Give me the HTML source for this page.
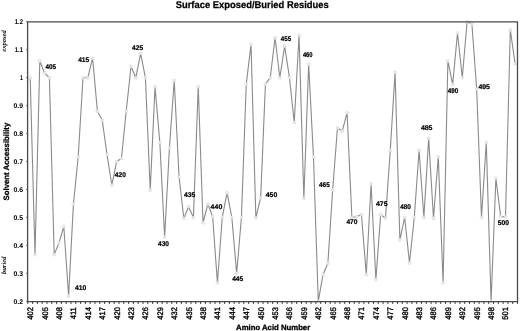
<!DOCTYPE html>
<html><head><meta charset="utf-8"><style>
html,body{margin:0;padding:0;background:#fff;}
body{width:520px;height:331px;overflow:hidden;font-family:"Liberation Sans", sans-serif;}
svg{display:block;will-change:transform;text-rendering:geometricPrecision;}
</style></head><body>
<svg width="520" height="331" viewBox="0 0 520 331">
<rect width="520" height="331" fill="#fff"/>
<text x="175.7" y="7.7" textLength="153" lengthAdjust="spacingAndGlyphs" font-family="Liberation Sans" font-weight="bold" font-size="9.8" fill="#000" stroke="#000" stroke-width="0.25">Surface Exposed/Buried Residues</text>
<text x="23" y="24.20" textLength="8.2" lengthAdjust="spacingAndGlyphs" text-anchor="end" font-family="Liberation Sans" font-weight="bold" font-size="6.8" fill="#000">1.2</text>
<line x1="26.0" y1="21.80" x2="27.8" y2="21.80" stroke="#555" stroke-width="0.8"/>
<text x="23" y="52.15" textLength="8.2" lengthAdjust="spacingAndGlyphs" text-anchor="end" font-family="Liberation Sans" font-weight="bold" font-size="6.8" fill="#000">1.1</text>
<line x1="26.0" y1="49.75" x2="27.8" y2="49.75" stroke="#555" stroke-width="0.8"/>
<text x="23" y="80.10" textLength="2.9" lengthAdjust="spacingAndGlyphs" text-anchor="end" font-family="Liberation Sans" font-weight="bold" font-size="6.8" fill="#000">1</text>
<line x1="26.0" y1="77.70" x2="27.8" y2="77.70" stroke="#555" stroke-width="0.8"/>
<text x="23" y="108.05" text-anchor="end" font-family="Liberation Sans" font-weight="bold" font-size="6.8" fill="#000">0.9</text>
<line x1="26.0" y1="105.65" x2="27.8" y2="105.65" stroke="#555" stroke-width="0.8"/>
<text x="23" y="136.00" text-anchor="end" font-family="Liberation Sans" font-weight="bold" font-size="6.8" fill="#000">0.8</text>
<line x1="26.0" y1="133.60" x2="27.8" y2="133.60" stroke="#555" stroke-width="0.8"/>
<text x="23" y="163.95" text-anchor="end" font-family="Liberation Sans" font-weight="bold" font-size="6.8" fill="#000">0.7</text>
<line x1="26.0" y1="161.55" x2="27.8" y2="161.55" stroke="#555" stroke-width="0.8"/>
<text x="23" y="191.90" text-anchor="end" font-family="Liberation Sans" font-weight="bold" font-size="6.8" fill="#000">0.6</text>
<line x1="26.0" y1="189.50" x2="27.8" y2="189.50" stroke="#555" stroke-width="0.8"/>
<text x="23" y="219.85" text-anchor="end" font-family="Liberation Sans" font-weight="bold" font-size="6.8" fill="#000">0.5</text>
<line x1="26.0" y1="217.45" x2="27.8" y2="217.45" stroke="#555" stroke-width="0.8"/>
<text x="23" y="247.80" text-anchor="end" font-family="Liberation Sans" font-weight="bold" font-size="6.8" fill="#000">0.4</text>
<line x1="26.0" y1="245.40" x2="27.8" y2="245.40" stroke="#555" stroke-width="0.8"/>
<text x="23" y="275.75" text-anchor="end" font-family="Liberation Sans" font-weight="bold" font-size="6.8" fill="#000">0.3</text>
<line x1="26.0" y1="273.35" x2="27.8" y2="273.35" stroke="#555" stroke-width="0.8"/>
<text x="23" y="303.70" text-anchor="end" font-family="Liberation Sans" font-weight="bold" font-size="6.8" fill="#000">0.2</text>
<line x1="26.0" y1="301.30" x2="27.8" y2="301.30" stroke="#555" stroke-width="0.8"/>
<line x1="27.80" y1="301.3" x2="27.80" y2="303.90000000000003" stroke="#333" stroke-width="1"/>
<line x1="32.60" y1="301.3" x2="32.60" y2="303.90000000000003" stroke="#333" stroke-width="1"/>
<line x1="37.40" y1="301.3" x2="37.40" y2="303.90000000000003" stroke="#333" stroke-width="1"/>
<line x1="42.20" y1="301.3" x2="42.20" y2="303.90000000000003" stroke="#333" stroke-width="1"/>
<line x1="47.00" y1="301.3" x2="47.00" y2="303.90000000000003" stroke="#333" stroke-width="1"/>
<line x1="51.80" y1="301.3" x2="51.80" y2="303.90000000000003" stroke="#333" stroke-width="1"/>
<line x1="56.61" y1="301.3" x2="56.61" y2="303.90000000000003" stroke="#333" stroke-width="1"/>
<line x1="61.41" y1="301.3" x2="61.41" y2="303.90000000000003" stroke="#333" stroke-width="1"/>
<line x1="66.21" y1="301.3" x2="66.21" y2="303.90000000000003" stroke="#333" stroke-width="1"/>
<line x1="71.01" y1="301.3" x2="71.01" y2="303.90000000000003" stroke="#333" stroke-width="1"/>
<line x1="75.81" y1="301.3" x2="75.81" y2="303.90000000000003" stroke="#333" stroke-width="1"/>
<line x1="80.61" y1="301.3" x2="80.61" y2="303.90000000000003" stroke="#333" stroke-width="1"/>
<line x1="85.41" y1="301.3" x2="85.41" y2="303.90000000000003" stroke="#333" stroke-width="1"/>
<line x1="90.21" y1="301.3" x2="90.21" y2="303.90000000000003" stroke="#333" stroke-width="1"/>
<line x1="95.01" y1="301.3" x2="95.01" y2="303.90000000000003" stroke="#333" stroke-width="1"/>
<line x1="99.81" y1="301.3" x2="99.81" y2="303.90000000000003" stroke="#333" stroke-width="1"/>
<line x1="104.62" y1="301.3" x2="104.62" y2="303.90000000000003" stroke="#333" stroke-width="1"/>
<line x1="109.42" y1="301.3" x2="109.42" y2="303.90000000000003" stroke="#333" stroke-width="1"/>
<line x1="114.22" y1="301.3" x2="114.22" y2="303.90000000000003" stroke="#333" stroke-width="1"/>
<line x1="119.02" y1="301.3" x2="119.02" y2="303.90000000000003" stroke="#333" stroke-width="1"/>
<line x1="123.82" y1="301.3" x2="123.82" y2="303.90000000000003" stroke="#333" stroke-width="1"/>
<line x1="128.62" y1="301.3" x2="128.62" y2="303.90000000000003" stroke="#333" stroke-width="1"/>
<line x1="133.42" y1="301.3" x2="133.42" y2="303.90000000000003" stroke="#333" stroke-width="1"/>
<line x1="138.22" y1="301.3" x2="138.22" y2="303.90000000000003" stroke="#333" stroke-width="1"/>
<line x1="143.02" y1="301.3" x2="143.02" y2="303.90000000000003" stroke="#333" stroke-width="1"/>
<line x1="147.82" y1="301.3" x2="147.82" y2="303.90000000000003" stroke="#333" stroke-width="1"/>
<line x1="152.63" y1="301.3" x2="152.63" y2="303.90000000000003" stroke="#333" stroke-width="1"/>
<line x1="157.43" y1="301.3" x2="157.43" y2="303.90000000000003" stroke="#333" stroke-width="1"/>
<line x1="162.23" y1="301.3" x2="162.23" y2="303.90000000000003" stroke="#333" stroke-width="1"/>
<line x1="167.03" y1="301.3" x2="167.03" y2="303.90000000000003" stroke="#333" stroke-width="1"/>
<line x1="171.83" y1="301.3" x2="171.83" y2="303.90000000000003" stroke="#333" stroke-width="1"/>
<line x1="176.63" y1="301.3" x2="176.63" y2="303.90000000000003" stroke="#333" stroke-width="1"/>
<line x1="181.43" y1="301.3" x2="181.43" y2="303.90000000000003" stroke="#333" stroke-width="1"/>
<line x1="186.23" y1="301.3" x2="186.23" y2="303.90000000000003" stroke="#333" stroke-width="1"/>
<line x1="191.03" y1="301.3" x2="191.03" y2="303.90000000000003" stroke="#333" stroke-width="1"/>
<line x1="195.83" y1="301.3" x2="195.83" y2="303.90000000000003" stroke="#333" stroke-width="1"/>
<line x1="200.64" y1="301.3" x2="200.64" y2="303.90000000000003" stroke="#333" stroke-width="1"/>
<line x1="205.44" y1="301.3" x2="205.44" y2="303.90000000000003" stroke="#333" stroke-width="1"/>
<line x1="210.24" y1="301.3" x2="210.24" y2="303.90000000000003" stroke="#333" stroke-width="1"/>
<line x1="215.04" y1="301.3" x2="215.04" y2="303.90000000000003" stroke="#333" stroke-width="1"/>
<line x1="219.84" y1="301.3" x2="219.84" y2="303.90000000000003" stroke="#333" stroke-width="1"/>
<line x1="224.64" y1="301.3" x2="224.64" y2="303.90000000000003" stroke="#333" stroke-width="1"/>
<line x1="229.44" y1="301.3" x2="229.44" y2="303.90000000000003" stroke="#333" stroke-width="1"/>
<line x1="234.24" y1="301.3" x2="234.24" y2="303.90000000000003" stroke="#333" stroke-width="1"/>
<line x1="239.04" y1="301.3" x2="239.04" y2="303.90000000000003" stroke="#333" stroke-width="1"/>
<line x1="243.84" y1="301.3" x2="243.84" y2="303.90000000000003" stroke="#333" stroke-width="1"/>
<line x1="248.65" y1="301.3" x2="248.65" y2="303.90000000000003" stroke="#333" stroke-width="1"/>
<line x1="253.45" y1="301.3" x2="253.45" y2="303.90000000000003" stroke="#333" stroke-width="1"/>
<line x1="258.25" y1="301.3" x2="258.25" y2="303.90000000000003" stroke="#333" stroke-width="1"/>
<line x1="263.05" y1="301.3" x2="263.05" y2="303.90000000000003" stroke="#333" stroke-width="1"/>
<line x1="267.85" y1="301.3" x2="267.85" y2="303.90000000000003" stroke="#333" stroke-width="1"/>
<line x1="272.65" y1="301.3" x2="272.65" y2="303.90000000000003" stroke="#333" stroke-width="1"/>
<line x1="277.45" y1="301.3" x2="277.45" y2="303.90000000000003" stroke="#333" stroke-width="1"/>
<line x1="282.25" y1="301.3" x2="282.25" y2="303.90000000000003" stroke="#333" stroke-width="1"/>
<line x1="287.05" y1="301.3" x2="287.05" y2="303.90000000000003" stroke="#333" stroke-width="1"/>
<line x1="291.85" y1="301.3" x2="291.85" y2="303.90000000000003" stroke="#333" stroke-width="1"/>
<line x1="296.65" y1="301.3" x2="296.65" y2="303.90000000000003" stroke="#333" stroke-width="1"/>
<line x1="301.46" y1="301.3" x2="301.46" y2="303.90000000000003" stroke="#333" stroke-width="1"/>
<line x1="306.26" y1="301.3" x2="306.26" y2="303.90000000000003" stroke="#333" stroke-width="1"/>
<line x1="311.06" y1="301.3" x2="311.06" y2="303.90000000000003" stroke="#333" stroke-width="1"/>
<line x1="315.86" y1="301.3" x2="315.86" y2="303.90000000000003" stroke="#333" stroke-width="1"/>
<line x1="320.66" y1="301.3" x2="320.66" y2="303.90000000000003" stroke="#333" stroke-width="1"/>
<line x1="325.46" y1="301.3" x2="325.46" y2="303.90000000000003" stroke="#333" stroke-width="1"/>
<line x1="330.26" y1="301.3" x2="330.26" y2="303.90000000000003" stroke="#333" stroke-width="1"/>
<line x1="335.06" y1="301.3" x2="335.06" y2="303.90000000000003" stroke="#333" stroke-width="1"/>
<line x1="339.86" y1="301.3" x2="339.86" y2="303.90000000000003" stroke="#333" stroke-width="1"/>
<line x1="344.66" y1="301.3" x2="344.66" y2="303.90000000000003" stroke="#333" stroke-width="1"/>
<line x1="349.47" y1="301.3" x2="349.47" y2="303.90000000000003" stroke="#333" stroke-width="1"/>
<line x1="354.27" y1="301.3" x2="354.27" y2="303.90000000000003" stroke="#333" stroke-width="1"/>
<line x1="359.07" y1="301.3" x2="359.07" y2="303.90000000000003" stroke="#333" stroke-width="1"/>
<line x1="363.87" y1="301.3" x2="363.87" y2="303.90000000000003" stroke="#333" stroke-width="1"/>
<line x1="368.67" y1="301.3" x2="368.67" y2="303.90000000000003" stroke="#333" stroke-width="1"/>
<line x1="373.47" y1="301.3" x2="373.47" y2="303.90000000000003" stroke="#333" stroke-width="1"/>
<line x1="378.27" y1="301.3" x2="378.27" y2="303.90000000000003" stroke="#333" stroke-width="1"/>
<line x1="383.07" y1="301.3" x2="383.07" y2="303.90000000000003" stroke="#333" stroke-width="1"/>
<line x1="387.87" y1="301.3" x2="387.87" y2="303.90000000000003" stroke="#333" stroke-width="1"/>
<line x1="392.67" y1="301.3" x2="392.67" y2="303.90000000000003" stroke="#333" stroke-width="1"/>
<line x1="397.48" y1="301.3" x2="397.48" y2="303.90000000000003" stroke="#333" stroke-width="1"/>
<line x1="402.28" y1="301.3" x2="402.28" y2="303.90000000000003" stroke="#333" stroke-width="1"/>
<line x1="407.08" y1="301.3" x2="407.08" y2="303.90000000000003" stroke="#333" stroke-width="1"/>
<line x1="411.88" y1="301.3" x2="411.88" y2="303.90000000000003" stroke="#333" stroke-width="1"/>
<line x1="416.68" y1="301.3" x2="416.68" y2="303.90000000000003" stroke="#333" stroke-width="1"/>
<line x1="421.48" y1="301.3" x2="421.48" y2="303.90000000000003" stroke="#333" stroke-width="1"/>
<line x1="426.28" y1="301.3" x2="426.28" y2="303.90000000000003" stroke="#333" stroke-width="1"/>
<line x1="431.08" y1="301.3" x2="431.08" y2="303.90000000000003" stroke="#333" stroke-width="1"/>
<line x1="435.88" y1="301.3" x2="435.88" y2="303.90000000000003" stroke="#333" stroke-width="1"/>
<line x1="440.68" y1="301.3" x2="440.68" y2="303.90000000000003" stroke="#333" stroke-width="1"/>
<line x1="445.49" y1="301.3" x2="445.49" y2="303.90000000000003" stroke="#333" stroke-width="1"/>
<line x1="450.29" y1="301.3" x2="450.29" y2="303.90000000000003" stroke="#333" stroke-width="1"/>
<line x1="455.09" y1="301.3" x2="455.09" y2="303.90000000000003" stroke="#333" stroke-width="1"/>
<line x1="459.89" y1="301.3" x2="459.89" y2="303.90000000000003" stroke="#333" stroke-width="1"/>
<line x1="464.69" y1="301.3" x2="464.69" y2="303.90000000000003" stroke="#333" stroke-width="1"/>
<line x1="469.49" y1="301.3" x2="469.49" y2="303.90000000000003" stroke="#333" stroke-width="1"/>
<line x1="474.29" y1="301.3" x2="474.29" y2="303.90000000000003" stroke="#333" stroke-width="1"/>
<line x1="479.09" y1="301.3" x2="479.09" y2="303.90000000000003" stroke="#333" stroke-width="1"/>
<line x1="483.89" y1="301.3" x2="483.89" y2="303.90000000000003" stroke="#333" stroke-width="1"/>
<line x1="488.69" y1="301.3" x2="488.69" y2="303.90000000000003" stroke="#333" stroke-width="1"/>
<line x1="493.50" y1="301.3" x2="493.50" y2="303.90000000000003" stroke="#333" stroke-width="1"/>
<line x1="498.30" y1="301.3" x2="498.30" y2="303.90000000000003" stroke="#333" stroke-width="1"/>
<line x1="503.10" y1="301.3" x2="503.10" y2="303.90000000000003" stroke="#333" stroke-width="1"/>
<line x1="507.90" y1="301.3" x2="507.90" y2="303.90000000000003" stroke="#333" stroke-width="1"/>
<line x1="512.70" y1="301.3" x2="512.70" y2="303.90000000000003" stroke="#333" stroke-width="1"/>
<line x1="517.50" y1="301.3" x2="517.50" y2="303.90000000000003" stroke="#333" stroke-width="1"/>
<text transform="translate(33.10,307.2) scale(1.07,1) rotate(-90)" text-anchor="end" font-family="Liberation Sans" font-size="7.5" fill="#000" stroke="#000" stroke-width="0.35">402</text>
<text transform="translate(47.50,307.2) scale(1.07,1) rotate(-90)" text-anchor="end" font-family="Liberation Sans" font-size="7.5" fill="#000" stroke="#000" stroke-width="0.35">405</text>
<text transform="translate(61.91,307.2) scale(1.07,1) rotate(-90)" text-anchor="end" font-family="Liberation Sans" font-size="7.5" fill="#000" stroke="#000" stroke-width="0.35">408</text>
<text transform="translate(76.31,307.2) scale(1.07,1) rotate(-90)" text-anchor="end" font-family="Liberation Sans" font-size="7.5" fill="#000" stroke="#000" stroke-width="0.35">411</text>
<text transform="translate(90.71,307.2) scale(1.07,1) rotate(-90)" text-anchor="end" font-family="Liberation Sans" font-size="7.5" fill="#000" stroke="#000" stroke-width="0.35">414</text>
<text transform="translate(105.12,307.2) scale(1.07,1) rotate(-90)" text-anchor="end" font-family="Liberation Sans" font-size="7.5" fill="#000" stroke="#000" stroke-width="0.35">417</text>
<text transform="translate(119.52,307.2) scale(1.07,1) rotate(-90)" text-anchor="end" font-family="Liberation Sans" font-size="7.5" fill="#000" stroke="#000" stroke-width="0.35">420</text>
<text transform="translate(133.92,307.2) scale(1.07,1) rotate(-90)" text-anchor="end" font-family="Liberation Sans" font-size="7.5" fill="#000" stroke="#000" stroke-width="0.35">423</text>
<text transform="translate(148.32,307.2) scale(1.07,1) rotate(-90)" text-anchor="end" font-family="Liberation Sans" font-size="7.5" fill="#000" stroke="#000" stroke-width="0.35">426</text>
<text transform="translate(162.73,307.2) scale(1.07,1) rotate(-90)" text-anchor="end" font-family="Liberation Sans" font-size="7.5" fill="#000" stroke="#000" stroke-width="0.35">429</text>
<text transform="translate(177.13,307.2) scale(1.07,1) rotate(-90)" text-anchor="end" font-family="Liberation Sans" font-size="7.5" fill="#000" stroke="#000" stroke-width="0.35">432</text>
<text transform="translate(191.53,307.2) scale(1.07,1) rotate(-90)" text-anchor="end" font-family="Liberation Sans" font-size="7.5" fill="#000" stroke="#000" stroke-width="0.35">435</text>
<text transform="translate(205.94,307.2) scale(1.07,1) rotate(-90)" text-anchor="end" font-family="Liberation Sans" font-size="7.5" fill="#000" stroke="#000" stroke-width="0.35">438</text>
<text transform="translate(220.34,307.2) scale(1.07,1) rotate(-90)" text-anchor="end" font-family="Liberation Sans" font-size="7.5" fill="#000" stroke="#000" stroke-width="0.35">441</text>
<text transform="translate(234.74,307.2) scale(1.07,1) rotate(-90)" text-anchor="end" font-family="Liberation Sans" font-size="7.5" fill="#000" stroke="#000" stroke-width="0.35">444</text>
<text transform="translate(249.14,307.2) scale(1.07,1) rotate(-90)" text-anchor="end" font-family="Liberation Sans" font-size="7.5" fill="#000" stroke="#000" stroke-width="0.35">447</text>
<text transform="translate(263.55,307.2) scale(1.07,1) rotate(-90)" text-anchor="end" font-family="Liberation Sans" font-size="7.5" fill="#000" stroke="#000" stroke-width="0.35">450</text>
<text transform="translate(277.95,307.2) scale(1.07,1) rotate(-90)" text-anchor="end" font-family="Liberation Sans" font-size="7.5" fill="#000" stroke="#000" stroke-width="0.35">453</text>
<text transform="translate(292.35,307.2) scale(1.07,1) rotate(-90)" text-anchor="end" font-family="Liberation Sans" font-size="7.5" fill="#000" stroke="#000" stroke-width="0.35">456</text>
<text transform="translate(306.76,307.2) scale(1.07,1) rotate(-90)" text-anchor="end" font-family="Liberation Sans" font-size="7.5" fill="#000" stroke="#000" stroke-width="0.35">459</text>
<text transform="translate(321.16,307.2) scale(1.07,1) rotate(-90)" text-anchor="end" font-family="Liberation Sans" font-size="7.5" fill="#000" stroke="#000" stroke-width="0.35">462</text>
<text transform="translate(335.56,307.2) scale(1.07,1) rotate(-90)" text-anchor="end" font-family="Liberation Sans" font-size="7.5" fill="#000" stroke="#000" stroke-width="0.35">465</text>
<text transform="translate(349.97,307.2) scale(1.07,1) rotate(-90)" text-anchor="end" font-family="Liberation Sans" font-size="7.5" fill="#000" stroke="#000" stroke-width="0.35">468</text>
<text transform="translate(364.37,307.2) scale(1.07,1) rotate(-90)" text-anchor="end" font-family="Liberation Sans" font-size="7.5" fill="#000" stroke="#000" stroke-width="0.35">471</text>
<text transform="translate(378.77,307.2) scale(1.07,1) rotate(-90)" text-anchor="end" font-family="Liberation Sans" font-size="7.5" fill="#000" stroke="#000" stroke-width="0.35">474</text>
<text transform="translate(393.17,307.2) scale(1.07,1) rotate(-90)" text-anchor="end" font-family="Liberation Sans" font-size="7.5" fill="#000" stroke="#000" stroke-width="0.35">477</text>
<text transform="translate(407.58,307.2) scale(1.07,1) rotate(-90)" text-anchor="end" font-family="Liberation Sans" font-size="7.5" fill="#000" stroke="#000" stroke-width="0.35">480</text>
<text transform="translate(421.98,307.2) scale(1.07,1) rotate(-90)" text-anchor="end" font-family="Liberation Sans" font-size="7.5" fill="#000" stroke="#000" stroke-width="0.35">483</text>
<text transform="translate(436.38,307.2) scale(1.07,1) rotate(-90)" text-anchor="end" font-family="Liberation Sans" font-size="7.5" fill="#000" stroke="#000" stroke-width="0.35">486</text>
<text transform="translate(450.79,307.2) scale(1.07,1) rotate(-90)" text-anchor="end" font-family="Liberation Sans" font-size="7.5" fill="#000" stroke="#000" stroke-width="0.35">489</text>
<text transform="translate(465.19,307.2) scale(1.07,1) rotate(-90)" text-anchor="end" font-family="Liberation Sans" font-size="7.5" fill="#000" stroke="#000" stroke-width="0.35">492</text>
<text transform="translate(479.59,307.2) scale(1.07,1) rotate(-90)" text-anchor="end" font-family="Liberation Sans" font-size="7.5" fill="#000" stroke="#000" stroke-width="0.35">495</text>
<text transform="translate(493.99,307.2) scale(1.07,1) rotate(-90)" text-anchor="end" font-family="Liberation Sans" font-size="7.5" fill="#000" stroke="#000" stroke-width="0.35">498</text>
<text transform="translate(508.40,307.2) scale(1.07,1) rotate(-90)" text-anchor="end" font-family="Liberation Sans" font-size="7.5" fill="#000" stroke="#000" stroke-width="0.35">501</text>
<text transform="translate(8.9,161.6) rotate(-90)" text-anchor="middle" font-family="Liberation Sans" font-weight="bold" font-size="7.8" fill="#000" stroke="#000" stroke-width="0.25">Solvent Accessibility</text>
<text x="236.1" y="330.2" textLength="74.1" lengthAdjust="spacingAndGlyphs" font-family="Liberation Sans" font-weight="bold" font-size="7.7" fill="#000" stroke="#000" stroke-width="0.3">Amino Acid Number</text>
<text transform="translate(6,41) rotate(-90)" text-anchor="middle" font-family="Liberation Serif" font-style="italic" font-weight="bold" font-size="6.6" fill="#000">exposed</text>
<text transform="translate(5.8,265.3) rotate(-90)" text-anchor="middle" font-family="Liberation Serif" font-style="italic" font-weight="bold" font-size="6.6" fill="#000">buried</text>
<polyline points="30.20,77.70 35.00,254.62 39.80,60.93 44.60,73.23 49.40,77.70 54.21,254.62 59.01,242.61 63.81,226.67 68.61,295.99 73.41,204.31 78.21,156.80 83.01,77.70 87.81,77.70 92.61,58.13 97.41,111.24 102.22,120.18 107.02,154.56 111.82,185.03 116.62,161.55 121.42,158.48 126.22,111.24 131.02,66.52 135.82,77.70 140.62,53.38 145.42,77.70 150.22,190.06 155.03,86.64 159.83,142.54 164.63,237.02 169.43,147.85 174.23,80.49 179.03,176.64 183.83,218.29 188.63,206.83 193.43,217.45 198.23,86.64 203.04,222.76 207.84,204.03 212.64,216.61 217.44,282.85 222.24,217.45 227.04,192.85 231.84,217.45 236.64,273.35 241.44,217.45 246.24,84.13 251.05,44.44 255.85,217.73 260.65,197.89 265.45,84.13 270.25,77.70 275.05,37.73 279.85,77.70 284.65,46.12 289.45,77.70 294.25,122.42 299.06,35.22 303.86,198.44 308.66,64.28 313.46,156.80 318.26,301.30 323.06,274.47 327.86,263.29 332.66,190.06 337.46,128.01 342.26,131.08 347.07,112.64 351.87,217.45 356.67,216.61 361.47,214.66 366.27,274.47 371.07,183.91 375.87,279.50 380.67,214.66 385.47,218.29 390.27,150.37 395.07,72.39 399.88,239.81 404.68,217.45 409.48,263.01 414.28,217.45 419.08,150.37 423.88,217.45 428.68,138.35 433.48,218.29 438.28,156.80 443.08,282.85 447.89,60.93 452.69,84.41 457.49,32.98 462.29,77.70 467.09,21.80 471.89,24.04 476.69,88.88 481.49,217.45 486.29,142.54 491.09,301.30 495.90,178.32 500.70,216.61 505.50,216.61 510.30,29.91 515.10,63.72" fill="none" stroke="#8a8a8a" stroke-width="1.1" stroke-linejoin="round"/>
<circle cx="30.20" cy="77.70" r="1.5" fill="#ececec" stroke="#cfcfcf" stroke-width="0.5"/>
<circle cx="35.00" cy="254.62" r="1.5" fill="#ececec" stroke="#cfcfcf" stroke-width="0.5"/>
<circle cx="39.80" cy="60.93" r="1.5" fill="#ececec" stroke="#cfcfcf" stroke-width="0.5"/>
<circle cx="44.60" cy="73.23" r="1.5" fill="#ececec" stroke="#cfcfcf" stroke-width="0.5"/>
<circle cx="49.40" cy="77.70" r="1.5" fill="#ececec" stroke="#cfcfcf" stroke-width="0.5"/>
<circle cx="54.21" cy="254.62" r="1.5" fill="#ececec" stroke="#cfcfcf" stroke-width="0.5"/>
<circle cx="59.01" cy="242.61" r="1.5" fill="#ececec" stroke="#cfcfcf" stroke-width="0.5"/>
<circle cx="63.81" cy="226.67" r="1.5" fill="#ececec" stroke="#cfcfcf" stroke-width="0.5"/>
<circle cx="68.61" cy="295.99" r="1.5" fill="#ececec" stroke="#cfcfcf" stroke-width="0.5"/>
<circle cx="73.41" cy="204.31" r="1.5" fill="#ececec" stroke="#cfcfcf" stroke-width="0.5"/>
<circle cx="78.21" cy="156.80" r="1.5" fill="#ececec" stroke="#cfcfcf" stroke-width="0.5"/>
<circle cx="83.01" cy="77.70" r="1.5" fill="#ececec" stroke="#cfcfcf" stroke-width="0.5"/>
<circle cx="87.81" cy="77.70" r="1.5" fill="#ececec" stroke="#cfcfcf" stroke-width="0.5"/>
<circle cx="92.61" cy="58.13" r="1.5" fill="#ececec" stroke="#cfcfcf" stroke-width="0.5"/>
<circle cx="97.41" cy="111.24" r="1.5" fill="#ececec" stroke="#cfcfcf" stroke-width="0.5"/>
<circle cx="102.22" cy="120.18" r="1.5" fill="#ececec" stroke="#cfcfcf" stroke-width="0.5"/>
<circle cx="107.02" cy="154.56" r="1.5" fill="#ececec" stroke="#cfcfcf" stroke-width="0.5"/>
<circle cx="111.82" cy="185.03" r="1.5" fill="#ececec" stroke="#cfcfcf" stroke-width="0.5"/>
<circle cx="116.62" cy="161.55" r="1.5" fill="#ececec" stroke="#cfcfcf" stroke-width="0.5"/>
<circle cx="121.42" cy="158.48" r="1.5" fill="#ececec" stroke="#cfcfcf" stroke-width="0.5"/>
<circle cx="126.22" cy="111.24" r="1.5" fill="#ececec" stroke="#cfcfcf" stroke-width="0.5"/>
<circle cx="131.02" cy="66.52" r="1.5" fill="#ececec" stroke="#cfcfcf" stroke-width="0.5"/>
<circle cx="135.82" cy="77.70" r="1.5" fill="#ececec" stroke="#cfcfcf" stroke-width="0.5"/>
<circle cx="140.62" cy="53.38" r="1.5" fill="#ececec" stroke="#cfcfcf" stroke-width="0.5"/>
<circle cx="145.42" cy="77.70" r="1.5" fill="#ececec" stroke="#cfcfcf" stroke-width="0.5"/>
<circle cx="150.22" cy="190.06" r="1.5" fill="#ececec" stroke="#cfcfcf" stroke-width="0.5"/>
<circle cx="155.03" cy="86.64" r="1.5" fill="#ececec" stroke="#cfcfcf" stroke-width="0.5"/>
<circle cx="159.83" cy="142.54" r="1.5" fill="#ececec" stroke="#cfcfcf" stroke-width="0.5"/>
<circle cx="164.63" cy="237.02" r="1.5" fill="#ececec" stroke="#cfcfcf" stroke-width="0.5"/>
<circle cx="169.43" cy="147.85" r="1.5" fill="#ececec" stroke="#cfcfcf" stroke-width="0.5"/>
<circle cx="174.23" cy="80.49" r="1.5" fill="#ececec" stroke="#cfcfcf" stroke-width="0.5"/>
<circle cx="179.03" cy="176.64" r="1.5" fill="#ececec" stroke="#cfcfcf" stroke-width="0.5"/>
<circle cx="183.83" cy="218.29" r="1.5" fill="#ececec" stroke="#cfcfcf" stroke-width="0.5"/>
<circle cx="188.63" cy="206.83" r="1.5" fill="#ececec" stroke="#cfcfcf" stroke-width="0.5"/>
<circle cx="193.43" cy="217.45" r="1.5" fill="#ececec" stroke="#cfcfcf" stroke-width="0.5"/>
<circle cx="198.23" cy="86.64" r="1.5" fill="#ececec" stroke="#cfcfcf" stroke-width="0.5"/>
<circle cx="203.04" cy="222.76" r="1.5" fill="#ececec" stroke="#cfcfcf" stroke-width="0.5"/>
<circle cx="207.84" cy="204.03" r="1.5" fill="#ececec" stroke="#cfcfcf" stroke-width="0.5"/>
<circle cx="212.64" cy="216.61" r="1.5" fill="#ececec" stroke="#cfcfcf" stroke-width="0.5"/>
<circle cx="217.44" cy="282.85" r="1.5" fill="#ececec" stroke="#cfcfcf" stroke-width="0.5"/>
<circle cx="222.24" cy="217.45" r="1.5" fill="#ececec" stroke="#cfcfcf" stroke-width="0.5"/>
<circle cx="227.04" cy="192.85" r="1.5" fill="#ececec" stroke="#cfcfcf" stroke-width="0.5"/>
<circle cx="231.84" cy="217.45" r="1.5" fill="#ececec" stroke="#cfcfcf" stroke-width="0.5"/>
<circle cx="236.64" cy="273.35" r="1.5" fill="#ececec" stroke="#cfcfcf" stroke-width="0.5"/>
<circle cx="241.44" cy="217.45" r="1.5" fill="#ececec" stroke="#cfcfcf" stroke-width="0.5"/>
<circle cx="246.24" cy="84.13" r="1.5" fill="#ececec" stroke="#cfcfcf" stroke-width="0.5"/>
<circle cx="251.05" cy="44.44" r="1.5" fill="#ececec" stroke="#cfcfcf" stroke-width="0.5"/>
<circle cx="255.85" cy="217.73" r="1.5" fill="#ececec" stroke="#cfcfcf" stroke-width="0.5"/>
<circle cx="260.65" cy="197.89" r="1.5" fill="#ececec" stroke="#cfcfcf" stroke-width="0.5"/>
<circle cx="265.45" cy="84.13" r="1.5" fill="#ececec" stroke="#cfcfcf" stroke-width="0.5"/>
<circle cx="270.25" cy="77.70" r="1.5" fill="#ececec" stroke="#cfcfcf" stroke-width="0.5"/>
<circle cx="275.05" cy="37.73" r="1.5" fill="#ececec" stroke="#cfcfcf" stroke-width="0.5"/>
<circle cx="279.85" cy="77.70" r="1.5" fill="#ececec" stroke="#cfcfcf" stroke-width="0.5"/>
<circle cx="284.65" cy="46.12" r="1.5" fill="#ececec" stroke="#cfcfcf" stroke-width="0.5"/>
<circle cx="289.45" cy="77.70" r="1.5" fill="#ececec" stroke="#cfcfcf" stroke-width="0.5"/>
<circle cx="294.25" cy="122.42" r="1.5" fill="#ececec" stroke="#cfcfcf" stroke-width="0.5"/>
<circle cx="299.06" cy="35.22" r="1.5" fill="#ececec" stroke="#cfcfcf" stroke-width="0.5"/>
<circle cx="303.86" cy="198.44" r="1.5" fill="#ececec" stroke="#cfcfcf" stroke-width="0.5"/>
<circle cx="308.66" cy="64.28" r="1.5" fill="#ececec" stroke="#cfcfcf" stroke-width="0.5"/>
<circle cx="313.46" cy="156.80" r="1.5" fill="#ececec" stroke="#cfcfcf" stroke-width="0.5"/>
<circle cx="318.26" cy="301.30" r="1.5" fill="#ececec" stroke="#cfcfcf" stroke-width="0.5"/>
<circle cx="323.06" cy="274.47" r="1.5" fill="#ececec" stroke="#cfcfcf" stroke-width="0.5"/>
<circle cx="327.86" cy="263.29" r="1.5" fill="#ececec" stroke="#cfcfcf" stroke-width="0.5"/>
<circle cx="332.66" cy="190.06" r="1.5" fill="#ececec" stroke="#cfcfcf" stroke-width="0.5"/>
<circle cx="337.46" cy="128.01" r="1.5" fill="#ececec" stroke="#cfcfcf" stroke-width="0.5"/>
<circle cx="342.26" cy="131.08" r="1.5" fill="#ececec" stroke="#cfcfcf" stroke-width="0.5"/>
<circle cx="347.07" cy="112.64" r="1.5" fill="#ececec" stroke="#cfcfcf" stroke-width="0.5"/>
<circle cx="351.87" cy="217.45" r="1.5" fill="#ececec" stroke="#cfcfcf" stroke-width="0.5"/>
<circle cx="356.67" cy="216.61" r="1.5" fill="#ececec" stroke="#cfcfcf" stroke-width="0.5"/>
<circle cx="361.47" cy="214.66" r="1.5" fill="#ececec" stroke="#cfcfcf" stroke-width="0.5"/>
<circle cx="366.27" cy="274.47" r="1.5" fill="#ececec" stroke="#cfcfcf" stroke-width="0.5"/>
<circle cx="371.07" cy="183.91" r="1.5" fill="#ececec" stroke="#cfcfcf" stroke-width="0.5"/>
<circle cx="375.87" cy="279.50" r="1.5" fill="#ececec" stroke="#cfcfcf" stroke-width="0.5"/>
<circle cx="380.67" cy="214.66" r="1.5" fill="#ececec" stroke="#cfcfcf" stroke-width="0.5"/>
<circle cx="385.47" cy="218.29" r="1.5" fill="#ececec" stroke="#cfcfcf" stroke-width="0.5"/>
<circle cx="390.27" cy="150.37" r="1.5" fill="#ececec" stroke="#cfcfcf" stroke-width="0.5"/>
<circle cx="395.07" cy="72.39" r="1.5" fill="#ececec" stroke="#cfcfcf" stroke-width="0.5"/>
<circle cx="399.88" cy="239.81" r="1.5" fill="#ececec" stroke="#cfcfcf" stroke-width="0.5"/>
<circle cx="404.68" cy="217.45" r="1.5" fill="#ececec" stroke="#cfcfcf" stroke-width="0.5"/>
<circle cx="409.48" cy="263.01" r="1.5" fill="#ececec" stroke="#cfcfcf" stroke-width="0.5"/>
<circle cx="414.28" cy="217.45" r="1.5" fill="#ececec" stroke="#cfcfcf" stroke-width="0.5"/>
<circle cx="419.08" cy="150.37" r="1.5" fill="#ececec" stroke="#cfcfcf" stroke-width="0.5"/>
<circle cx="423.88" cy="217.45" r="1.5" fill="#ececec" stroke="#cfcfcf" stroke-width="0.5"/>
<circle cx="428.68" cy="138.35" r="1.5" fill="#ececec" stroke="#cfcfcf" stroke-width="0.5"/>
<circle cx="433.48" cy="218.29" r="1.5" fill="#ececec" stroke="#cfcfcf" stroke-width="0.5"/>
<circle cx="438.28" cy="156.80" r="1.5" fill="#ececec" stroke="#cfcfcf" stroke-width="0.5"/>
<circle cx="443.08" cy="282.85" r="1.5" fill="#ececec" stroke="#cfcfcf" stroke-width="0.5"/>
<circle cx="447.89" cy="60.93" r="1.5" fill="#ececec" stroke="#cfcfcf" stroke-width="0.5"/>
<circle cx="452.69" cy="84.41" r="1.5" fill="#ececec" stroke="#cfcfcf" stroke-width="0.5"/>
<circle cx="457.49" cy="32.98" r="1.5" fill="#ececec" stroke="#cfcfcf" stroke-width="0.5"/>
<circle cx="462.29" cy="77.70" r="1.5" fill="#ececec" stroke="#cfcfcf" stroke-width="0.5"/>
<circle cx="467.09" cy="21.80" r="1.5" fill="#ececec" stroke="#cfcfcf" stroke-width="0.5"/>
<circle cx="471.89" cy="24.04" r="1.5" fill="#ececec" stroke="#cfcfcf" stroke-width="0.5"/>
<circle cx="476.69" cy="88.88" r="1.5" fill="#ececec" stroke="#cfcfcf" stroke-width="0.5"/>
<circle cx="481.49" cy="217.45" r="1.5" fill="#ececec" stroke="#cfcfcf" stroke-width="0.5"/>
<circle cx="486.29" cy="142.54" r="1.5" fill="#ececec" stroke="#cfcfcf" stroke-width="0.5"/>
<circle cx="491.09" cy="301.30" r="1.5" fill="#ececec" stroke="#cfcfcf" stroke-width="0.5"/>
<circle cx="495.90" cy="178.32" r="1.5" fill="#ececec" stroke="#cfcfcf" stroke-width="0.5"/>
<circle cx="500.70" cy="216.61" r="1.5" fill="#ececec" stroke="#cfcfcf" stroke-width="0.5"/>
<circle cx="505.50" cy="216.61" r="1.5" fill="#ececec" stroke="#cfcfcf" stroke-width="0.5"/>
<circle cx="510.30" cy="29.91" r="1.5" fill="#ececec" stroke="#cfcfcf" stroke-width="0.5"/>
<circle cx="515.10" cy="63.72" r="1.5" fill="#ececec" stroke="#cfcfcf" stroke-width="0.5"/>
<text x="45.40" y="68.60" textLength="10.60" lengthAdjust="spacingAndGlyphs" font-family="Liberation Sans" font-weight="bold" font-size="6.9" fill="#000" stroke="#000" stroke-width="0.2">405</text>
<text x="74.90" y="289.90" textLength="11.30" lengthAdjust="spacingAndGlyphs" font-family="Liberation Sans" font-weight="bold" font-size="6.9" fill="#000" stroke="#000" stroke-width="0.2">410</text>
<text x="78.20" y="62.20" textLength="11.00" lengthAdjust="spacingAndGlyphs" font-family="Liberation Sans" font-weight="bold" font-size="6.9" fill="#000" stroke="#000" stroke-width="0.2">415</text>
<text x="114.80" y="176.50" textLength="11.00" lengthAdjust="spacingAndGlyphs" font-family="Liberation Sans" font-weight="bold" font-size="6.9" fill="#000" stroke="#000" stroke-width="0.2">420</text>
<text x="132.10" y="50.00" textLength="11.00" lengthAdjust="spacingAndGlyphs" font-family="Liberation Sans" font-weight="bold" font-size="6.9" fill="#000" stroke="#000" stroke-width="0.2">425</text>
<text x="158.00" y="246.00" textLength="11.00" lengthAdjust="spacingAndGlyphs" font-family="Liberation Sans" font-weight="bold" font-size="6.9" fill="#000" stroke="#000" stroke-width="0.2">430</text>
<text x="184.00" y="197.20" textLength="11.30" lengthAdjust="spacingAndGlyphs" font-family="Liberation Sans" font-weight="bold" font-size="6.9" fill="#000" stroke="#000" stroke-width="0.2">435</text>
<text x="210.60" y="208.50" textLength="11.70" lengthAdjust="spacingAndGlyphs" font-family="Liberation Sans" font-weight="bold" font-size="6.9" fill="#000" stroke="#000" stroke-width="0.2">440</text>
<text x="232.20" y="280.90" textLength="11.00" lengthAdjust="spacingAndGlyphs" font-family="Liberation Sans" font-weight="bold" font-size="6.9" fill="#000" stroke="#000" stroke-width="0.2">445</text>
<text x="265.80" y="197.20" textLength="11.40" lengthAdjust="spacingAndGlyphs" font-family="Liberation Sans" font-weight="bold" font-size="6.9" fill="#000" stroke="#000" stroke-width="0.2">450</text>
<text x="280.80" y="40.80" textLength="10.30" lengthAdjust="spacingAndGlyphs" font-family="Liberation Sans" font-weight="bold" font-size="6.9" fill="#000" stroke="#000" stroke-width="0.2">455</text>
<text x="302.90" y="56.60" textLength="9.70" lengthAdjust="spacingAndGlyphs" font-family="Liberation Sans" font-weight="bold" font-size="6.9" fill="#000" stroke="#000" stroke-width="0.2">460</text>
<text x="319.00" y="187.20" textLength="10.70" lengthAdjust="spacingAndGlyphs" font-family="Liberation Sans" font-weight="bold" font-size="6.9" fill="#000" stroke="#000" stroke-width="0.2">465</text>
<text x="346.40" y="224.00" textLength="11.10" lengthAdjust="spacingAndGlyphs" font-family="Liberation Sans" font-weight="bold" font-size="6.9" fill="#000" stroke="#000" stroke-width="0.2">470</text>
<text x="376.00" y="205.80" textLength="11.60" lengthAdjust="spacingAndGlyphs" font-family="Liberation Sans" font-weight="bold" font-size="6.9" fill="#000" stroke="#000" stroke-width="0.2">475</text>
<text x="400.20" y="208.80" textLength="10.70" lengthAdjust="spacingAndGlyphs" font-family="Liberation Sans" font-weight="bold" font-size="6.9" fill="#000" stroke="#000" stroke-width="0.2">480</text>
<text x="420.90" y="130.30" textLength="11.60" lengthAdjust="spacingAndGlyphs" font-family="Liberation Sans" font-weight="bold" font-size="6.9" fill="#000" stroke="#000" stroke-width="0.2">485</text>
<text x="447.80" y="93.20" textLength="10.60" lengthAdjust="spacingAndGlyphs" font-family="Liberation Sans" font-weight="bold" font-size="6.9" fill="#000" stroke="#000" stroke-width="0.2">490</text>
<text x="478.40" y="88.90" textLength="11.60" lengthAdjust="spacingAndGlyphs" font-family="Liberation Sans" font-weight="bold" font-size="6.9" fill="#000" stroke="#000" stroke-width="0.2">495</text>
<text x="497.70" y="224.50" textLength="11.30" lengthAdjust="spacingAndGlyphs" font-family="Liberation Sans" font-weight="bold" font-size="6.9" fill="#000" stroke="#000" stroke-width="0.2">500</text>
<path d="M27.6,21.8H517.5V301.6H27.6Z" fill="none" stroke="#4a4a4a" stroke-width="1.3"/>
</svg>
</body></html>
